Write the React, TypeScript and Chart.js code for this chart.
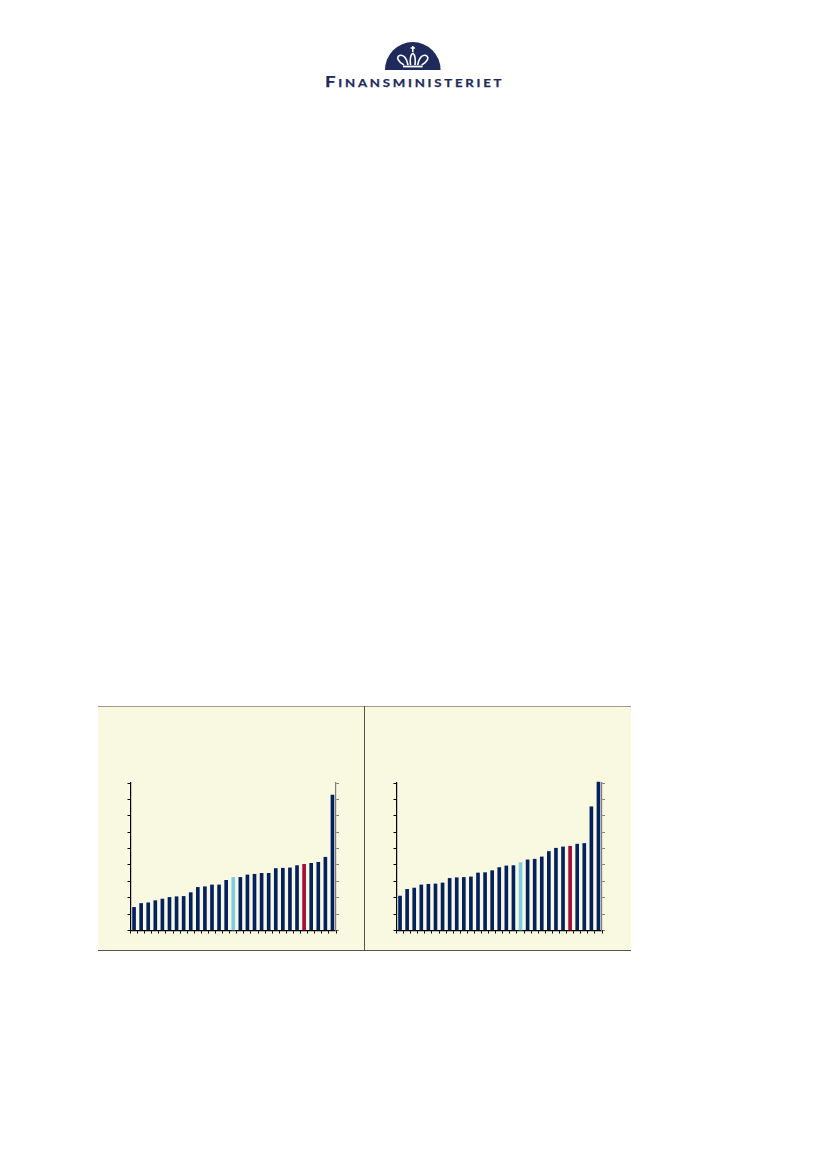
import { FC, ReactElement, useEffect, useRef } from 'react';
import { Chart, registerables } from 'chart.js';

Chart.register(...registerables);

// Values, one bar per rank, sorted as in the source
const leftValues = [
  1.41, 1.65, 1.69, 1.82, 1.92, 2.02, 2.06, 2.08, 2.31, 2.63, 2.67, 2.78, 2.78, 3.06, 3.24, 3.24, 3.39, 3.43, 3.49,
  3.49, 3.78, 3.8, 3.82, 3.96, 4.04, 4.1, 4.16, 4.47, 8.27
];
const rightValues = [
  2.1, 2.51, 2.59, 2.78, 2.82, 2.84, 2.9, 3.18, 3.22, 3.24, 3.27, 3.51, 3.53, 3.65, 3.84, 3.94, 3.96, 4.14, 4.31, 4.35,
  4.49, 4.82, 5.02, 5.1, 5.14, 5.27, 5.31, 7.55, 9.06
];
const axisMin = 0;
const axisMax = 9;

const NAVY = '#03205f';
const LIGHT_BLUE = '#7ccbe9';
const RED = '#a30c38';

const barColors = (count: number, blueIndex: number, redIndex: number): string[] =>
  Array.from({ length: count }, (_, i) => (i === blueIndex ? LIGHT_BLUE : i === redIndex ? RED : NAVY));

const BarPanel: FC<{ values: number[]; blueIndex: number; redIndex: number; left: number }> = ({
  values,
  blueIndex,
  redIndex,
  left
}): ReactElement => {
  const chartRef = useRef<HTMLCanvasElement | null>(null);

  useEffect(() => {
    if (!chartRef.current) return;
    const chart = new Chart(chartRef.current, {
      type: 'bar',
      data: {
        labels: values.map((_, i) => String(i + 1)),
        datasets: [
          {
            data: values,
            backgroundColor: barColors(values.length, blueIndex, redIndex),
            barThickness: 3,
            clip: false
          }
        ]
      },
      options: {
        responsive: false,
        animation: false,
        layout: { padding: { left: 7.5, right: 7, top: 13, bottom: 11.5 } },
        plugins: { legend: { display: false }, tooltip: { enabled: false } },
        scales: {
          x: {
            grid: { drawOnChartArea: false, tickLength: 3, tickColor: '#000000', tickWidth: 1 },
            border: { color: '#000000', width: 1.2 },
            ticks: { display: false, autoSkip: false }
          },
          y: {
            min: axisMin,
            max: axisMax,
            grid: { drawOnChartArea: false, tickLength: 3, tickColor: '#000000', tickWidth: 1 },
            border: { color: '#000000', width: 1.2 },
            ticks: { display: false, stepSize: 1 }
          },
          y2: {
            position: 'right',
            min: axisMin,
            max: axisMax,
            grid: { drawOnChartArea: false, tickLength: 3, tickColor: '#808080', tickWidth: 1 },
            border: { color: '#808080', width: 1.2 },
            ticks: { display: false, stepSize: 1 }
          }
        }
      }
    });

    return () => {
      chart.destroy();
    };
  }, [values, blueIndex, redIndex]);

  return (
    <canvas
      ref={chartRef}
      width={226}
      height={175}
      style={{ position: 'absolute', left, top: 770, width: 226, height: 175 }}
    />
  );
};

const Logo: FC = (): ReactElement => (
  <>
    <svg width={827} height={100} style={{ position: 'absolute', left: 0, top: 0 }}>
      <path d="M385 70 A27.8 28 0 0 1 440.6 70 Z" fill="#1f2a5c" />
      <g fill="none" stroke="#ffffff" strokeWidth={1.6}>
        <path d="M412.8 46 V52 M410.6 48 H415" />
        <path d="M404 65 C398 62 396 57 399.5 55.5 C404 54 407 59 408 65" />
        <path d="M421.6 65 C427.6 62 429.6 57 426 55.5 C421.6 54 418.6 59 417.6 65" />
        <path d="M412.8 53 C409.5 56 410 61 410.5 65 M412.8 53 C416 56 415.5 61 415 65" />
        <path d="M403 66.5 H422.6" strokeWidth={1.8} />
      </g>
    </svg>
    <div
      style={{
        position: 'absolute',
        left: 325,
        top: 71,
        fontFamily: 'Lato, sans-serif',
        fontWeight: 700,
        fontSize: 15.5,
        lineHeight: '20px',
        letterSpacing: 2.3,
        fontVariant: 'small-caps',
        color: '#1f2a5c',
        whiteSpace: 'nowrap',
        WebkitTextStroke: '0.25px #1f2a5c',
        transform: 'scaleX(1.2)',
        transformOrigin: 'left top'
      }}
    >
      Finansministeriet
    </div>
  </>
);

const App: FC = (): ReactElement => {
  return (
    <div style={{ position: 'absolute', left: 0, top: 0, width: 827, height: 1169, background: '#ffffff' }}>
      <Logo />
      <div
        style={{
          position: 'absolute',
          left: 98,
          top: 706,
          width: 533,
          height: 245,
          boxSizing: 'border-box',
          background: '#f9f8e1',
          borderTop: '1px solid #9a9a90',
          borderBottom: '1px solid #55554c'
        }}
      />
      <div style={{ position: 'absolute', left: 364, top: 706, width: 1, height: 245, background: '#55554c' }} />
      <BarPanel values={leftValues} blueIndex={14} redIndex={24} left={120} />
      <BarPanel values={rightValues} blueIndex={17} redIndex={24} left={386} />
    </div>
  );
};

export default App;
